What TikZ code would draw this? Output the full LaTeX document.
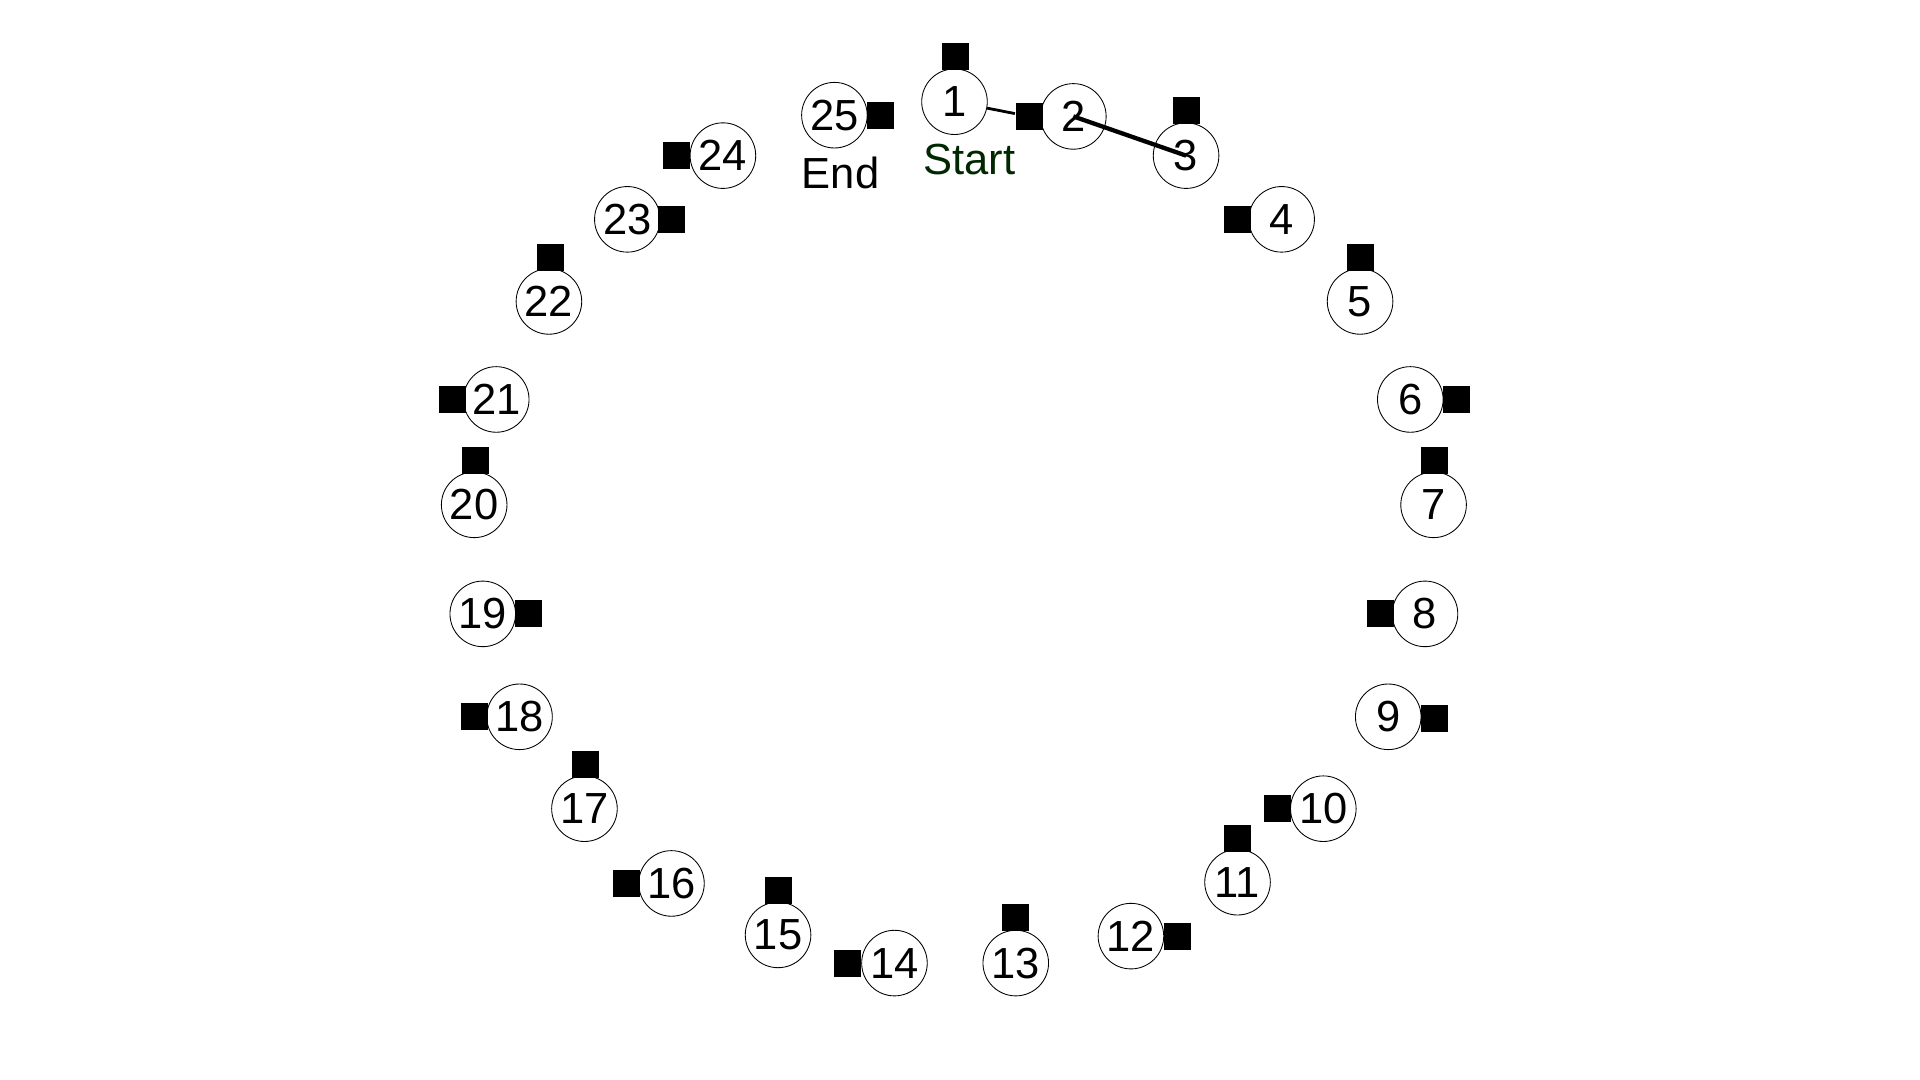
\documentclass[tikz,border=0pt]{standalone}
\usepackage{fontspec}
\setmainfont{Liberation Sans}
\definecolor{startgreen}{RGB}{0,40,0}
\begin{document}
\begin{tikzpicture}[
				x=0.01cm, y=-0.01cm,
				num/.style={circle, draw, line width=0.2pt, minimum size=0.535cm, inner sep=0pt, font=\fontsize{10.1}{12}\selectfont},
				sq/.style={rectangle, fill=black, minimum size=0.22cm, inner sep=0pt},
				tag/.style={font=\fontsize{10.1}{12}\selectfont}
			]
			\useasboundingbox (0,0) rectangle (1567,881);
			\foreach \i/\x/\y/\sx/\sy in {
				1/779/83/780/46, 2/876/95/840/95, 3/968/127/968/90,
				4/1046/179/1010/179, 5/1110/246/1110/210, 6/1151/326/1189/326,
				7/1170/412/1171/376, 8/1163/501/1127/501, 9/1133/585/1171/586,
				10/1080/660/1043/660, 11/1010/720/1010/684, 12/923/764/961/764,
				13/829/786/829/749, 14/730/786/692/786, 15/635/763/635/727,
				16/548/721/511/721, 17/477/660/478/624, 18/424/585/387/585,
				19/394/501/431/501, 20/387/412/388/376, 21/405/326/369/326,
				22/448/246/449/210, 23/512/179/548/179, 24/590/127/552/127,
				25/681/94/719/94}
			{
				\node[num] (n\i) at (\x,\y) {\i};
				\node[sq] (s\i) at (\sx,\sy) {};
			}
			\node[tag] (endlabel) at (686,141) {End};
			\node[tag, text=startgreen] (startlabel) at (791,130) {Start};
			\draw[line width=0.65pt] (n1) -- (s2);
			\draw[line width=1pt] (n2.center) -- (n3.center);
		\end{tikzpicture}
\end{document}
